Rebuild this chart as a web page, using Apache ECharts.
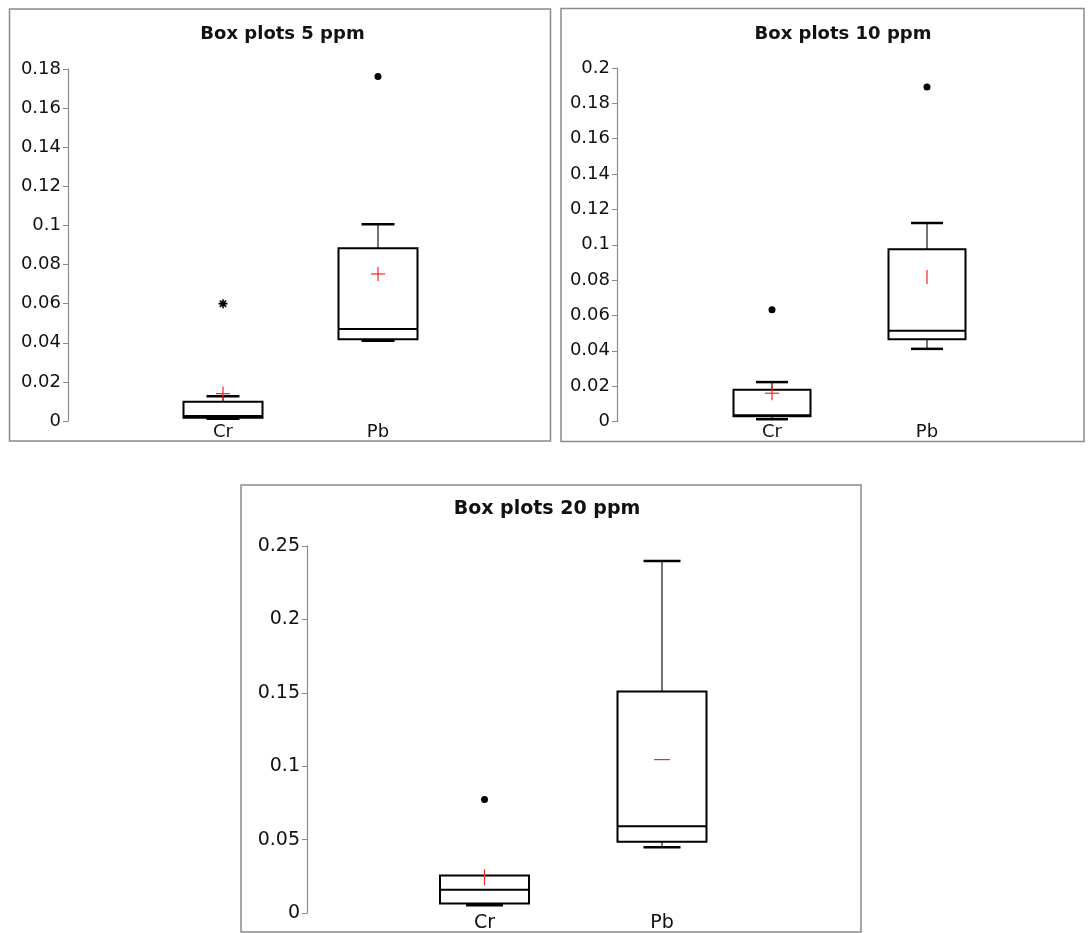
<!DOCTYPE html>
<html>
<head>
<meta charset="utf-8">
<script src="https://cdn.jsdelivr.net/npm/echarts@6/dist/echarts.min.js"></script>
<style>
  html, body { margin: 0; padding: 0; background: #fff; }
  #boxPlots { width: 1091px; height: 933px; }
</style>
</head>
<body>
<div id="boxPlots"></div>
<script>
// empty slots at both ends keep Cr / Pb away from the y axis and the frame
const categories = ['', 'Cr', 'Pb', ''];

// [min, Q1, median, Q3, max] for Cr and Pb
const box5 = [[0.0012, 0.0017, 0.0025, 0.0098, 0.0127], [0.0411, 0.0418, 0.0470, 0.0884, 0.1006]];
const box10 = [[0.0013, 0.0030, 0.0036, 0.0179, 0.0223], [0.0411, 0.0466, 0.0513, 0.0975, 0.1123]];
const box20 = [[0.0052, 0.0064, 0.0159, 0.0255, 0.0255], [0.0448, 0.0486, 0.0591, 0.1509, 0.2398]];

// means (red markers), Cr then Pb
const mean5 = [0.0140, 0.0752];
const mean10 = [0.0160, 0.0817];
const mean20 = [0.0243, 0.1045];

// outliers [category, value]
const outliers5 = [['Cr', 0.0600], ['Pb', 0.1762]];
const outliers10 = [['Cr', 0.0632], ['Pb', 0.1892]];
const outliers20 = [['Cr', 0.0773]];

// y axis ticks
const yMax = [0.18, 0.2, 0.25];
const yStep = [0.02, 0.02, 0.05];

const titles = ['Box plots 5 ppm', 'Box plots 10 ppm', 'Box plots 20 ppm'];

const font = 'DejaVu Sans';

const panels = [
  {box: box5, mean: mean5, out: outliers5, frame: [9.5, 9, 541, 432], grid: [68, 69, 465, 352], title: [282.5, 25], fs: 18, tfs: 18,
    boxHalf: 39.5, capHalf: 16.5, meanShape: ['+', '+'], meanHalf: 7, star: 'Cr', labelMargin: 2},
  {box: box10, mean: mean10, out: outliers10, frame: [561, 8.5, 523, 433], grid: [617, 68, 465, 353.5], title: [843, 25], fs: 18, tfs: 18,
    boxHalf: 38.5, capHalf: 16, meanShape: ['+', '|'], meanHalf: 7, star: null, labelMargin: 2},
  {box: box20, mean: mean20, out: outliers20, frame: [241, 485, 620, 447], grid: [307, 546, 532.5, 369], title: [547, 500], fs: 19, tfs: 19,
    boxHalf: 44.5, capHalf: 18.5, meanShape: ['|', '-'], meanHalf: 8, star: null, labelMargin: 1}
];

function renderBox(p) {
  return function (params, api) {
    const x = api.value(0);
    const ys = [1, 2, 3, 4, 5].map(function (i) { return api.coord([x, api.value(i)]); });
    const cx = ys[0][0];
    const lo = ys[0][1], q1 = ys[1][1], md = ys[2][1], q3 = ys[3][1], hi = ys[4][1];
    const whisker = {stroke: '#444', lineWidth: 1.5};
    const cap = {stroke: '#000', lineWidth: 2.5};
    const kids = [
      {type: 'line', shape: {x1: cx, y1: q1, x2: cx, y2: lo}, style: whisker},
      {type: 'line', shape: {x1: cx - p.capHalf, y1: lo, x2: cx + p.capHalf, y2: lo}, style: cap}
    ];
    if (hi < q3 - 0.5) {
      kids.push({type: 'line', shape: {x1: cx, y1: q3, x2: cx, y2: hi}, style: whisker});
      kids.push({type: 'line', shape: {x1: cx - p.capHalf, y1: hi, x2: cx + p.capHalf, y2: hi}, style: cap});
    }
    kids.push(
      {type: 'rect', shape: {x: cx - p.boxHalf, y: q3, width: p.boxHalf * 2, height: q1 - q3},
        style: {fill: '#fff', stroke: '#000', lineWidth: 2}},
      {type: 'line', shape: {x1: cx - p.boxHalf, y1: md, x2: cx + p.boxHalf, y2: md}, style: {stroke: '#000', lineWidth: 2}}
    );
    return {type: 'group', children: kids};
  };
}

function renderMean(p) {
  return function (params, api) {
    const pt = api.coord([api.value(0), api.value(1)]);
    const shape = p.meanShape[params.dataIndex];
    const h = p.meanHalf;
    const red = {stroke: '#ff2020', lineWidth: 1.2};
    const kids = [];
    if (shape !== '|') kids.push({type: 'line', shape: {x1: pt[0] - h, y1: pt[1], x2: pt[0] + h, y2: pt[1]}, style: red});
    if (shape !== '-') kids.push({type: 'line', shape: {x1: pt[0], y1: pt[1] - h, x2: pt[0], y2: pt[1] + h}, style: red});
    return {type: 'group', children: kids};
  };
}

const option = {
  animation: false,
  backgroundColor: '#fff',
  title: [],
  grid: [],
  xAxis: [],
  yAxis: [],
  series: [],
  graphic: []
};

panels.forEach(function (p, i) {
  option.graphic.push({
    type: 'rect', z: -10,
    shape: {x: p.frame[0], y: p.frame[1], width: p.frame[2], height: p.frame[3]},
    style: {fill: null, stroke: '#8a8a8a', lineWidth: 1.5}
  });
  option.title.push({
    text: titles[i], left: p.title[0], top: p.title[1], textAlign: 'center', padding: 0,
    textStyle: {fontFamily: font, fontSize: p.tfs, fontWeight: 'bold', color: '#111'}
  });
  option.grid.push({left: p.grid[0], top: p.grid[1], width: p.grid[2], height: p.grid[3]});
  option.xAxis.push({
    type: 'category', gridIndex: i, data: categories, boundaryGap: false,
    axisLine: {show: false}, axisTick: {show: false}, splitLine: {show: false},
    axisLabel: {interval: 0, margin: p.labelMargin, fontFamily: font, fontSize: p.fs, color: '#111'}
  });
  option.yAxis.push({
    type: 'value', gridIndex: i, min: 0, max: yMax[i], interval: yStep[i],
    axisLine: {show: true, lineStyle: {color: '#8a8a8a', width: 1.2}},
    axisTick: {show: true, length: 5, lineStyle: {color: '#8a8a8a'}},
    splitLine: {show: false},
    axisLabel: {margin: 7, fontFamily: font, fontSize: p.fs, color: '#111'}
  });
  option.series.push({
    type: 'custom', xAxisIndex: i, yAxisIndex: i, z: 2,
    renderItem: renderBox(p),
    encode: {x: 0, y: [1, 2, 3, 4, 5]},
    data: p.box.map(function (b, k) { return [k + 1].concat(b); })
  });
  option.series.push({
    type: 'custom', xAxisIndex: i, yAxisIndex: i, z: 3,
    renderItem: renderMean(p),
    encode: {x: 0, y: 1},
    data: p.mean.map(function (m, k) { return [k + 1, m]; })
  });
  option.series.push({
    type: 'scatter', xAxisIndex: i, yAxisIndex: i, z: 3,
    data: p.out.map(function (o) {
      const item = {value: [categories.indexOf(o[0]), o[1]]};
      if (o[0] === p.star) {
        item.symbol = 'path://M0,5L10,5M5,0L5,10M1.5,1.5L8.5,8.5M1.5,8.5L8.5,1.5';
        item.symbolSize = 9;
        item.itemStyle = {color: 'rgba(0,0,0,0)', borderColor: '#000', borderWidth: 1.6, opacity: 1};
      }
      return item;
    }),
    symbol: 'circle', symbolSize: 7,
    itemStyle: {color: '#000', opacity: 1}
  });
});

const chart = echarts.init(document.getElementById('boxPlots'), null, {width: 1091, height: 933});
chart.setOption(option);
</script>
</body>
</html>
